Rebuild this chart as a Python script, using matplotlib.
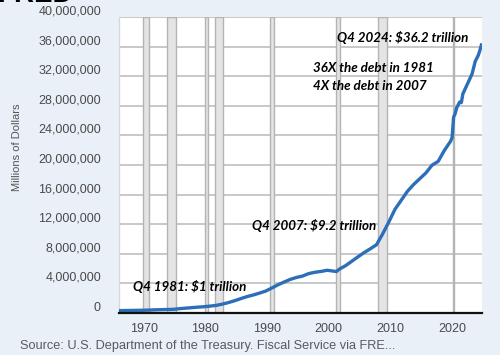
import matplotlib
matplotlib.use("Agg")
import matplotlib.pyplot as plt
import matplotlib.transforms as mtransforms
from matplotlib.ticker import FuncFormatter

# ---- data (millions of dollars), x = fractional year ----
years = [1966.0, 1966.75, 1967.75, 1968.75, 1969.75, 1970.75, 1971.75, 1972.75, 1973.75,
         1974.75, 1975.75, 1976.75, 1977.75, 1978.75, 1979.75, 1980.75, 1981.75,
         1982.75, 1983.75, 1984.75, 1985.75, 1986.75, 1987.75, 1988.75, 1989.75,
         1990.75, 1991.75, 1992.75, 1993.75, 1994.75, 1995.75, 1996.75, 1997.75,
         1998.75, 1999.75, 2000.75, 2001.25, 2001.75, 2002.75, 2003.75, 2004.75,
         2005.75, 2006.75, 2007.75, 2008.75, 2009.75, 2010.75, 2011.75, 2012.75,
         2013.75, 2014.75, 2015.75, 2016.75, 2017.75, 2018.75, 2019.75, 2020.0,
         2020.25, 2020.5, 2020.75, 2021.25, 2021.5, 2021.75, 2022.75, 2023.25,
         2023.5, 2023.75, 2024.25, 2024.5, 2024.75]
debt = [321000, 329000, 344000, 358000, 368000, 389000, 424000, 449000, 469000,
        492000, 576000, 653000, 718000, 789000, 845000, 930000, 1028000,
        1197000, 1410000, 1663000, 1945000, 2214000, 2431000, 2684000, 2953000,
        3364000, 3802000, 4177000, 4536000, 4800000, 4989000, 5324000, 5503000,
        5614000, 5776000, 5662000, 5600000, 5943000, 6405000, 6998000, 7596000,
        8170000, 8680000, 9229000, 10700000, 12311000, 14025000, 15223000, 16433000,
        17352000, 18141000, 18922000, 19977000, 20493000, 21974000, 23201000, 23687000,
        26477000, 26945000, 27748000, 28530000, 28430000, 29617000, 31420000, 32330000,
        33170000, 34001000, 34830000, 35460000, 36218000]

recessions = [(1969.92, 1970.83), (1973.83, 1975.17), (1980.0, 1980.5),
              (1981.5, 1982.83), (1990.5, 1991.17), (2001.17, 2001.83),
              (2007.92, 2009.5), (2020.08, 2020.25)]

yticks = [0, 4e6, 8e6, 12e6, 16e6, 20e6, 24e6, 28e6, 32e6, 36e6, 40e6]
xticks = [1970, 1980, 1990, 2000, 2010, 2020]

annotations = [
    ("Q4 2024: $36.2 trillion", 0.600, 0.932),
    ("36X the debt in 1981", 0.534, 0.828),
    ("4X the debt in 2007", 0.534, 0.767),
    ("Q4 2007: $9.2 trillion", 0.366, 0.297),
    ("Q4 1981: $1 trillion", 0.038, 0.088),
]

BG = "#e9f0f8"
fig = plt.figure(figsize=(5, 3.6), dpi=100, facecolor=BG)
# white strip at the bottom
fig.patches.append(plt.Rectangle((0, 0), 1, 5/360, transform=fig.transFigure,
                                 facecolor="white", edgecolor="none", zorder=0))

ax = fig.add_axes([119/500, 1 - 313/360, (482-119)/500, (313-17)/360])
ax.set_facecolor("white")

for a, b in recessions:
    ax.axvspan(a, b, facecolor="#e4e4e4", edgecolor="#b4b4b4", lw=1.0, zorder=1)

ax.plot(years, debt, color="#2c6eb8", lw=2.4, zorder=3, solid_joinstyle="round")

ax.set_xlim(1966.0, 2024.85)
ax.set_ylim(0, 40e6)
ax.set_yticks(yticks)
ax.set_xticks(xticks)
ax.yaxis.set_major_formatter(FuncFormatter(lambda v, p: f"{int(v):,}"))
ax.grid(axis="y", color="#c4c4c4", lw=1.3, zorder=0)
ax.set_axisbelow(True)

for s in ["top", "right"]:
    ax.spines[s].set_visible(False)
ax.spines["left"].set_color("#d8d8d8")
ax.spines["left"].set_linewidth(1.0)
ax.spines["bottom"].set_color("#111111")
ax.spines["bottom"].set_linewidth(1.6)
ax.spines["bottom"].set_zorder(4)

ax.tick_params(axis="both", length=0, labelsize=9, labelcolor="#4a4a4a")
ax.tick_params(axis="y", pad=13)
ax.tick_params(axis="x", pad=7)
for lab in ax.get_yticklabels() + ax.get_xticklabels():
    lab.set_fontfamily("Liberation Sans")
off = mtransforms.ScaledTranslation(0, 5/72, fig.dpi_scale_trans)
for lab in ax.get_yticklabels():
    lab.set_transform(lab.get_transform() + off)

fig.text(17/500, 1 - 147/360, "Millions of Dollars", rotation=90, ha="center",
         va="center", fontsize=8, color="#555555", family="Liberation Sans")

fig.text(20/500, 1 - 346/360,
         "Source: U.S. Department of the Treasury. Fiscal Service via FRE...",
         ha="left", va="center", fontsize=9.2, color="#5a5a5a", family="Liberation Sans")

# cropped logo at very top (only its bottom edge is visible)
fig.text(-0.005, 1 - 2/360, "FRED", ha="left", va="baseline", fontsize=20,
         fontweight="bold", color="black", family="Liberation Sans")

for txt, x, y in annotations:
    ax.text(x, y, txt, transform=ax.transAxes, ha="left", va="center",
            fontsize=9.6, fontweight="bold", fontstyle="italic", color="black",
            family="Lato", zorder=5)

fig.savefig("out.png", dpi=100, facecolor=BG)
